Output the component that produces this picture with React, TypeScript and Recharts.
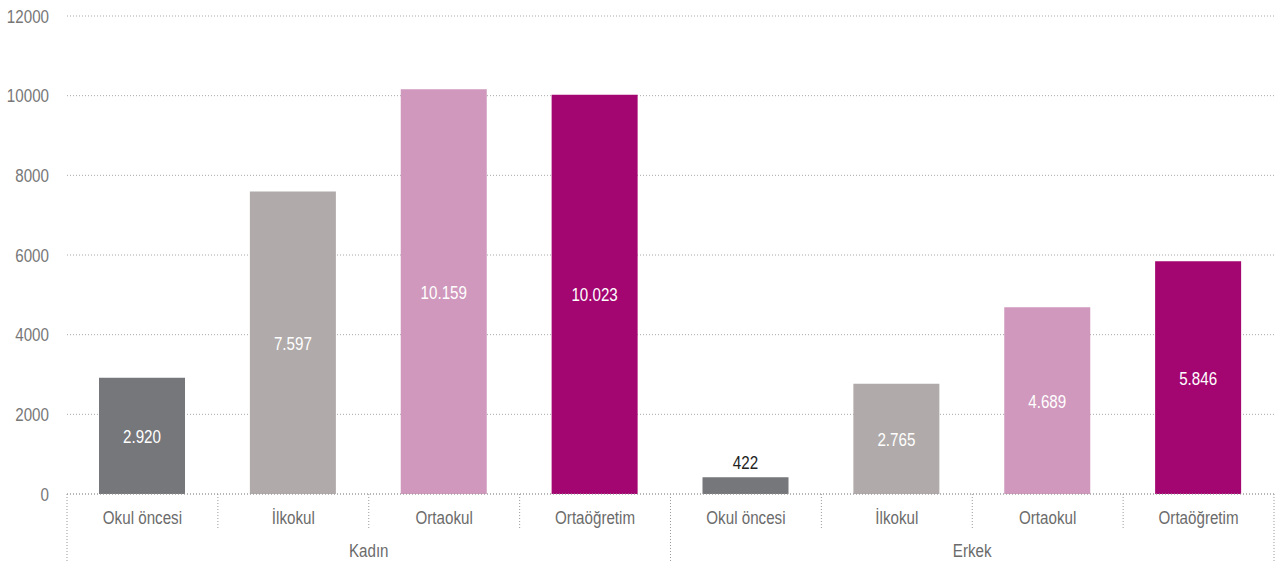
import React from 'react';
import { BarChart, Bar, XAxis, YAxis, CartesianGrid, Cell, LabelList } from 'recharts';

const categories = ['Okul öncesi', 'İlkokul', 'Ortaokul', 'Ortaöğretim'];
const groups = ['Kadın', 'Erkek'];
const kadinValues = [2920, 7597, 10159, 10023];
const erkekValues = [422, 2765, 4689, 5846];
const categoryColors = ['#76777b', '#b0abaa', '#cf98bc', '#a30571'];
const yTicks = [0, 2000, 4000, 6000, 8000, 10000, 12000];

const data = [
  ...categories.map((c, i) => ({ key: `k${i}`, name: c, group: groups[0], value: kadinValues[i], color: categoryColors[i] })),
  ...categories.map((c, i) => ({ key: `e${i}`, name: c, group: groups[1], value: erkekValues[i], color: categoryColors[i] })),
];

const FONT = "'Liberation Sans', Arial, sans-serif";
const SEP = '#9a9a9a';
const SX = 0.82;
const FS = 18.5;

const fmt = (v: number) => String(v).replace(/\B(?=(\d{3})+(?!\d))/g, '.');

const NText = ({ x, y, anchor, fill, children }: any) => (
  <text
    transform={`translate(${x},${y}) scale(${SX},1)`}
    x={0}
    y={0}
    textAnchor={anchor}
    fill={fill}
    fontSize={FS}
    fontFamily={FONT}
  >
    {children}
  </text>
);

const XTick = (props: any) => {
  const { x, y, payload, index } = props;
  const off = payload.offset ?? 75.375;
  const left = x - off;
  const right = x + off;
  const isGroupStart = index % 4 === 0;
  const isLast = index === data.length - 1;
  const row = data[index];
  return (
    <g>
      <line x1={left} x2={left} y1={y} y2={isGroupStart ? y + 68 : y + 36} stroke={SEP} strokeDasharray="1 2" />
      {isLast && <line x1={right} x2={right} y1={y} y2={y + 68} stroke={SEP} strokeDasharray="1 2" />}
      <NText x={x} y={y + 30} anchor="middle" fill="#6b6b6b">
        {payload.value}
      </NText>
      {isGroupStart && (
        <NText x={x + 3 * off} y={y + 63} anchor="middle" fill="#6b6b6b">
          {row ? row.group : ''}
        </NText>
      )}
    </g>
  );
};

const YTick = (props: any) => {
  const { y, payload } = props;
  return (
    <NText x={49} y={y + 6.5} anchor="end" fill="#777">
      {payload.value}
    </NText>
  );
};

const ValueLabel = (props: any) => {
  const { x, y, width, height, value } = props;
  const small = value < 1000;
  const cx = x + width / 2;
  const cy = small ? y - 8 : y + height / 2 + 7;
  return (
    <NText x={cx} y={cy} anchor="middle" fill={small ? '#222' : '#fff'}>
      {fmt(value)}
    </NText>
  );
};

export default function App() {
  return (
    <div style={{ position: 'absolute', left: 0, top: 0, width: 1279, height: 564, background: '#fff' }}>
      <BarChart width={1279} height={564} data={data} margin={{ top: 16, right: 5, bottom: 0, left: 0 }}>
        <CartesianGrid vertical={false} stroke="#a8a8a8" strokeDasharray="1 2" />
        <YAxis
          width={67}
          domain={[0, 12000]}
          ticks={yTicks}
          axisLine={false}
          tickLine={false}
          tick={<YTick />}
          interval={0}
        />
        <XAxis
          dataKey="name"
          height={70}
          interval={0}
          tickLine={false}
          tickSize={0}
          tickMargin={0}
          axisLine={{ stroke: SEP, strokeDasharray: '1 2' }}
          tick={<XTick />}
        />
        <Bar dataKey="value" barSize={86} isAnimationActive={false}>
          {data.map((d) => (
            <Cell key={d.key} fill={d.color} />
          ))}
          <LabelList dataKey="value" content={<ValueLabel />} />
        </Bar>
      </BarChart>
    </div>
  );
}
